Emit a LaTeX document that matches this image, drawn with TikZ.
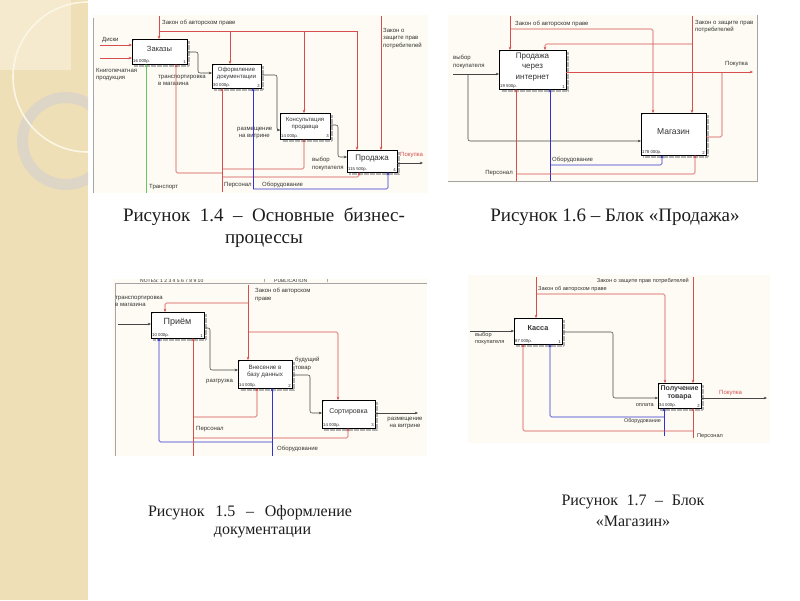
\documentclass[tikz,border=0pt]{standalone}
\usepackage{fontspec}
\setmainfont{Liberation Serif}
\newfontfamily\df{Liberation Sans}
\usetikzlibrary{arrows.meta,calc}
\definecolor{beige}{RGB}{239,223,182}
\definecolor{beigelight}{RGB}{245,234,206}
\definecolor{creamline}{RGB}{251,246,230}
\definecolor{ringc}{RGB}{220,214,200}
\definecolor{arred}{RGB}{214,78,78}
\definecolor{mechc}{RGB}{50,50,210}
\definecolor{flowc}{RGB}{70,70,70}
\definecolor{greenc}{RGB}{100,200,100}
\definecolor{dbg}{RGB}{253,251,243}
\definecolor{framec}{RGB}{165,165,165}
\definecolor{capc}{RGB}{30,30,30}
\newcommand\IBox[9]{%
 \pgfmathsetmacro\bxw{#4-#2}\pgfmathsetmacro\bxh{#5-#3}%
 \pgfmathsetmacro\bxc{(#2+#4)/2}\pgfmathsetmacro\byc{(#3+#5)/2}%
 \draw[shad] (#4+1.8,#3+2) -- (#4+1.8,#5+1.8) -- (#2+2,#5+1.8);
 \node[pbox, minimum width=\bxw pt, minimum height=\bxh pt] (#1) at (\bxc,\byc) {};
 \node[blab, font=#6] (#1-t) at ($(#1.center)+(0,-2.5)$) {#7};
 \node[cost, anchor=south west] (#1-c) at ($(#1.south west)+(1,-0.8)$) {#8};
 \node[cost, anchor=south east] (#1-n) at ($(#1.south east)+(-1,-0.8)$) {#9};
 \fill (#1.north west) -- ++(2.5,0) -- ++(-2.5,2.5) -- cycle;
}
\begin{document}
\begin{tikzpicture}[x=1pt,y=-1pt,
  pbox/.style={draw=black, line width=0.9pt, fill=white, inner sep=0pt, outer sep=0pt},
  shad/.style={draw=black!30, line width=1.6pt, dash pattern=on 0.6pt off 0.6pt},
  blab/.style={inner sep=0pt, align=center, text=black!80},
  cost/.style={inner sep=0pt, font=\df\fontsize{4.3}{5}\selectfont, text=black!85},
  lbl/.style={inner sep=0pt, align=left, text=black!80, font=\df\fontsize{6}{7.5}\selectfont},
  arr/.style={-{Stealth[length=3.2pt,width=2.6pt]}},
  ctl/.style={draw=arred, line width=0.55pt, rounded corners=1.5pt},
  flow/.style={draw=flowc, line width=0.55pt, rounded corners=2pt},
  mech/.style={draw=mechc, line width=0.55pt, rounded corners=1.5pt},
  grn/.style={draw=greenc, line width=0.6pt},
  captext/.style={inner sep=0pt, align=center, text=capc, font=\fontsize{19}{22}\selectfont},
  frm/.style={draw=framec, line width=0.8pt}
]
\useasboundingbox (0,0) rectangle (800,600);
% slide background
\fill[white] (0,0) rectangle (800,600);
\fill[beige] (0,0) rectangle (88,600);
\fill[beigelight] (0,0) rectangle (71,70);
\begin{scope}
\clip (0,0) rectangle (88,600);
\draw[ringc, line width=11pt, opacity=0.9] (66,141) circle (43.5pt);
\draw[creamline, line width=1.6pt] (88,77) circle (75pt);
\end{scope}

% ================= Diagram 1 =================
\fill[dbg] (93,15) rectangle (428,193);
\draw[frm] (93.5,18) -- (93.5,193);
\IBox{zak}{132}{39}{187}{64}{\df\fontsize{7.5}{8.5}\selectfont}{Заказы}{16 000р.}{1}
\IBox{ofd}{212}{64}{261}{88}{\df\fontsize{6}{7}\selectfont}{Оформление\\документации}{30 000р.}{2}
\IBox{kon}{280}{113}{330}{139}{\df\fontsize{6}{7}\selectfont}{Консультация\\продавца}{14 000р.}{3}
\IBox{prd}{347}{150}{397}{172}{\df\fontsize{8}{9}\selectfont}{Продажа}{115 500р.}{4}
% controls
\draw[ctl,arr] (159,16) -- (zak.north -| 159,0);
\draw[ctl] (159,31) -- (357,31);
\draw[ctl,arr] (230,31) -- (ofd.north -| 230,0);
\draw[ctl,arr] (304,31) -- (kon.north -| 304,0);
\draw[ctl,arr] (357,31) -- (prd.north -| 357,0);
\node[lbl, anchor=west] (l1a) at (162,23) {Закон об авторском праве};
\draw[ctl,arr] (381,16) -- (prd.north -| 381,0);
\node[lbl, anchor=north west] (l1b) at (383,28) {Закон о\\защите прав\\потребителей};
% inputs
\draw[ctl,arr] (100,45) -- (zak.west |- 0,45);
\node[lbl, anchor=west] (l1c) at (102,40) {Диски};
\draw[ctl,arr] (100,58) -- (zak.west |- 0,58);
\node[lbl, anchor=north west] (l1d) at (96,68) {Книгопечатная\\продукция};
% flows
\draw[flow,arr] (zak.east |- 0,52) -- (198,52) -- (198,73) -- (ofd.west |- 0,73);
\node[lbl, anchor=north west] (l1e) at (158,75) {транспортировка\\в магазина};
\draw[flow,arr] (ofd.east |- 0,75) -- (277,75) -- (277,130) -- (kon.west |- 0,130);
\node[lbl, anchor=north west] (l1f) at (237,127) {размещение\\\ на витрине};
\draw[flow,arr] (kon.east |- 0,125) -- (338,125) -- (338,157) -- (prd.west |- 0,157);
\node[lbl, anchor=north west] (l1g) at (312,157) {выбор\\покупателя};
\draw[flow,arr] (prd.east |- 0,163) -- (423,163);
\node[lbl, anchor=west, text=arred] (l1h) at (400,155) {Покупка};
% mechanisms
\draw[grn,arr] (146,193) -- (zak.south -| 146,0);
\node[lbl, anchor=west] (l1i) at (149,187) {Транспорт};
\draw[ctl,arr] (222,192) -- (ofd.south -| 222,0);
\draw[ctl,arr] (222,173) -- (176,173) -- (zak.south -| 176,0);
\draw[ctl,arr] (222,169) -- (304,169) -- (kon.south -| 304,0);
\draw[ctl,arr] (222,177) -- (359,177) -- (prd.south -| 359,0);
\node[lbl, anchor=west] (l1j) at (224,185) {Персонал};
\draw[mech,arr] (253,189) -- (ofd.south -| 253,0);
\draw[mech,arr] (253,189) -- (388,189) -- (prd.south -| 388,0);
\node[lbl, anchor=west] (l1k) at (262,185) {Оборудование};

% ================= Diagram 2 =================
\fill[dbg] (448,15) rectangle (758,183);
\draw[frm] (448,181.5) -- (757.5,181.5) -- (757.5,15);
\IBox{pi}{499}{50}{566}{89}{\df\fontsize{8}{10.5}\selectfont}{Продажа\\через\\интернет}{19 500р.}{1}
\IBox{mag}{641}{113}{706}{155}{\df\fontsize{8.5}{9.5}\selectfont}{Магазин}{178 000р.}{2}
\draw[ctl,arr] (510,16) -- (pi.north -| 510,0);
\draw[ctl,arr] (510,29) -- (653,29) -- (mag.north -| 653,0);
\node[lbl, anchor=west] (l2a) at (515,24) {Закон об авторском праве};
\draw[ctl,arr] (692,16) -- (mag.north -| 692,0);
\draw[ctl,arr] (692,44) -- (545,44) -- (pi.north -| 545,0);
\node[lbl, anchor=north west] (l2b) at (695,20) {Закон о защите прав\\потребителей};
\draw[ctl,arr] (pi.east |- 0,72) -- (753,72);
\draw[ctl] (mag.east |- 0,137) -- (722,137) -- (722,72);
\node[lbl, anchor=west] (l2c) at (725,64) {Покупка};
\draw[flow,arr] (453,74) -- (pi.west |- 0,74);
\draw[flow,arr] (468,74) -- (468,141) -- (mag.west |- 0,141);
\node[lbl, anchor=north west] (l2d) at (453,55) {выбор\\покупателя};
\draw[mech,arr] (550,181) -- (pi.south -| 550,0);
\draw[mech,arr] (550,165) -- (662,165) -- (mag.south -| 662,0);
\node[lbl, anchor=west] (l2e) at (552,160) {Оборудование};
\draw[ctl,arr] (516,181) -- (pi.south -| 516,0);
\draw[ctl,arr] (516,174) -- (695,174) -- (mag.south -| 695,0);
\node[lbl, anchor=east] (l2f) at (513,173) {Персонал};

% ================= Diagram 3 =================
\fill[dbg] (113,279) rectangle (427,456);
\begin{scope}
\clip (113,279) rectangle (427,300);
\node[lbl, anchor=west, font=\df\fontsize{5}{6}\selectfont] (h1) at (140,280.5) {NOTES: 1 2 3 4 5 6 7 8 9 10};
\node[lbl, anchor=west, font=\df\fontsize{5}{6}\selectfont] (h2) at (274,280.5) {PUBLICATION};
\node[lbl, anchor=west, font=\df\fontsize{5}{6}\selectfont] (h3) at (264,280.5) {|};
\node[lbl, anchor=west, font=\df\fontsize{5}{6}\selectfont] (h4) at (327,280.5) {|};
\end{scope}
\draw[frm] (115,283.5) -- (427,283.5);
\draw[frm] (115,283.5) -- (115,456);
\IBox{pr}{151}{312}{204}{338}{\df\fontsize{9}{10}\selectfont}{Приём}{10 000р.}{1}
\IBox{vn}{238}{360}{292}{388}{\df\fontsize{6.2}{7.5}\selectfont}{Внесение в\\базу данных}{14 000р.}{2}
\IBox{so}{322}{400}{375}{428}{\df\fontsize{7}{8}\selectfont}{Сортировка}{14 000р.}{3}
\draw[flow,arr] (118,324) -- (pr.west |- 0,324);
\node[lbl, anchor=north west] (l3a) at (115,296) {транспортировка\\в магазина};
\draw[ctl,arr] (248,285) -- (vn.north -| 248,0);
\draw[ctl,arr] (248,303) -- (165,303) -- (pr.north -| 165,0);
\draw[ctl,arr] (248,332) -- (338,332) -- (so.north -| 338,0);
\node[lbl, anchor=north west] (l3b) at (255,288) {Закон об авторском\\праве};
\draw[flow,arr] (pr.east |- 0,328) -- (210,328) -- (210,370) -- (vn.west |- 0,370);
\node[lbl, anchor=west] (l3c) at (206,382) {разгрузка};
\draw[flow,arr] (vn.east |- 0,375) -- (310,375) -- (310,413) -- (so.west |- 0,413);
\node[lbl, anchor=north west] (l3d) at (295,357) {будущий\\товар};
\draw[flow,arr] (so.east |- 0,413) -- (418,413);
\node[lbl, anchor=north, align=center] (l3e) at (405,417) {размещение\\на витрине};
\draw[mech,arr] (272,456) -- (vn.south -| 272,0);
\draw[mech,arr] (272,442) -- (159,442) -- (pr.south -| 159,0);
\node[lbl, anchor=west] (l3f) at (277,449) {Оборудование};
\draw[ctl,arr] (193,456) -- (pr.south -| 193,0);
\draw[ctl,arr] (193,417) -- (257,417) -- (vn.south -| 257,0);
\draw[ctl,arr] (193,438) -- (348,438) -- (so.south -| 348,0);
\node[lbl, anchor=west] (l3g) at (196,429) {Персонал};

% ================= Diagram 4 =================
\fill[dbg] (468,275) rectangle (770,443);
\IBox{ka}{514}{318}{562}{344}{\df\bfseries\fontsize{7.3}{8.5}\selectfont}{Касса}{87 000р.}{1}
\IBox{pt}{658}{383}{701}{408}{\df\bfseries\fontsize{7}{8.5}\selectfont}{Получение\\товара}{34 000р.}{2}
\draw[flow,arr] (470,331) -- (ka.west |- 0,331);
\node[lbl, anchor=north west, font=\df\fontsize{5.6}{7}\selectfont] (l4a) at (475,332) {выбор\\покупателя};
\draw[ctl,arr] (536,277) -- (ka.north -| 536,0);
\draw[ctl,arr] (536,294) -- (665,294) -- (pt.north -| 665,0);
\node[lbl, anchor=south west, font=\df\fontsize{5.6}{7}\selectfont] (l4b) at (538,292) {Закон об авторском праве};
\draw[ctl,arr] (693,277) -- (pt.north -| 693,0);
\node[lbl, anchor=east, font=\df\fontsize{5.6}{7}\selectfont] (l4c) at (689,281) {Закон о защите прав потребителей};
\draw[flow,arr] (ka.east |- 0,332) -- (613,332) -- (613,398) -- (pt.west |- 0,398);
\node[lbl, anchor=east, font=\df\fontsize{5.6}{7}\selectfont] (l4d) at (654,405) {оплата};
\draw[flow,arr] (pt.east |- 0,398) -- (767,398);
\node[lbl, anchor=west, text=arred, font=\df\fontsize{6}{7}\selectfont] (l4e) at (719,393) {Покупка};
\draw[mech,arr] (664,436) -- (pt.south -| 664,0);
\draw[mech,arr] (664,417) -- (550,417) -- (ka.south -| 550,0);
\node[lbl, anchor=east, font=\df\fontsize{5.4}{7}\selectfont] (l4f) at (661,421) {Оборудование};
\draw[ctl,arr] (693,438) -- (pt.south -| 693,0);
\draw[ctl,arr] (693,431) -- (523,431) -- (ka.south -| 523,0);
\node[lbl, anchor=west, font=\df\fontsize{5.6}{7}\selectfont] (l4g) at (697,436) {Персонал};

% ================= Captions =================
\node[captext] (c1) at (264,227.5) {\makebox[282pt][s]{Рисунок 1.4 – Основные бизнес-}\\процессы};
\node[captext, anchor=base] (c2) at (615,221) {Рисунок 1.6 – Блок «Продажа»};
\node[captext, font=\fontsize{16}{18}\selectfont] (c3) at (262.5,522) {\makebox[204pt][s]{Рисунок 1.5 – Оформление}\kern25pt\\документации};
\node[captext, font=\fontsize{16}{21}\selectfont] (c4) at (633,510.7) {\makebox[143pt][s]{Рисунок 1.7 – Блок}\\«Магазин»};
\end{tikzpicture}
\end{document}
